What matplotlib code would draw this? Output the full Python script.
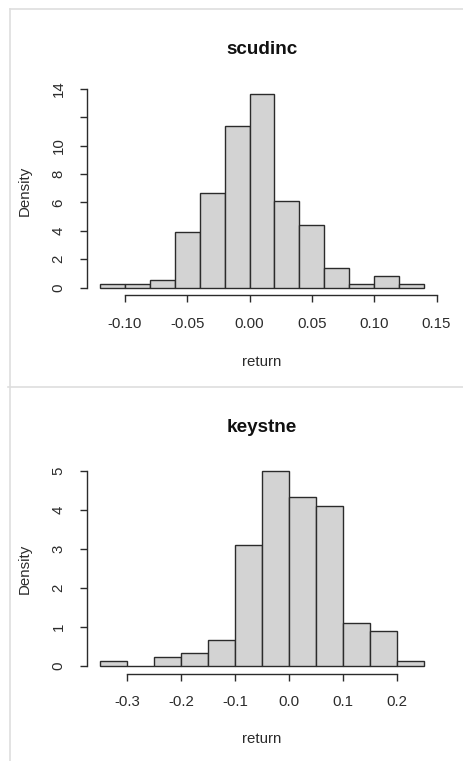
import matplotlib
matplotlib.use("Agg")
import matplotlib.pyplot as plt
from matplotlib.lines import Line2D
import numpy as np

plt.rcParams["font.family"] = ["Liberation Sans", "DejaVu Sans"]
plt.rcParams["axes.unicode_minus"] = False

# scudinc: 180 monthly returns, bins of 0.02
scud_edges = [-0.12, -0.10, -0.08, -0.06, -0.04, -0.02, 0.00,
              0.02, 0.04, 0.06, 0.08, 0.10, 0.12, 0.14]
scud_counts = [1, 1, 2, 14, 24, 41, 49, 22, 16, 5, 1, 3, 1]
scud_xticks = [-0.10, -0.05, 0.00, 0.05, 0.10, 0.15]
scud_xlabels = ["-0.10", "-0.05", "0.00", "0.05", "0.10", "0.15"]
scud_yticks = [0, 2, 4, 6, 8, 10, 12, 14]
scud_ylabels = ["0", "2", "4", "6", "8", "10", "", "14"]

# keystne: 180 monthly returns, bins of 0.05
key_edges = [-0.35, -0.30, -0.25, -0.20, -0.15, -0.10, -0.05,
             0.00, 0.05, 0.10, 0.15, 0.20, 0.25]
key_counts = [1, 0, 2, 3, 6, 28, 45, 39, 37, 10, 8, 1]
key_xticks = [-0.3, -0.2, -0.1, 0.0, 0.1, 0.2]
key_xlabels = ["-0.3", "-0.2", "-0.1", "0.0", "0.1", "0.2"]
key_yticks = [0, 1, 2, 3, 4, 5]
key_ylabels = ["0", "1", "2", "3", "4", "5"]

W, H = 464, 761
INK = "#2b2b2b"
FS = 10.8

fig = plt.figure(figsize=(W / 100, H / 100), dpi=100)


def px_axes(x0, y0, x1, y1):
    # pixel box (top-left origin) -> figure fraction
    return fig.add_axes([x0 / W, 1 - y1 / H, (x1 - x0) / W, (y1 - y0) / H])


def r_hist(ax, edges, counts, xticks, xlabels, yticks, ylabels, title, title_y):
    edges = np.asarray(edges)
    counts = np.asarray(counts, dtype=float)
    widths = np.diff(edges)
    dens = counts / (counts.sum() * widths)
    ax.bar(edges[:-1], dens, width=widths, align="edge",
           color="#d3d3d3", edgecolor=INK, linewidth=1.0)

    span = edges[-1] - edges[0]
    ax.set_xlim(edges[0] - 0.04 * span, edges[-1] + 0.04 * span)
    top = dens.max()
    ax.set_ylim(-0.04 * top, top * 1.04)

    for s in ["top", "right"]:
        ax.spines[s].set_visible(False)
    for s in ["left", "bottom"]:
        ax.spines[s].set_color(INK)
        ax.spines[s].set_linewidth(1.0)
    ax.spines["bottom"].set_bounds(xticks[0], xticks[-1])
    ax.spines["left"].set_bounds(yticks[0], yticks[-1])

    ax.set_xticks(xticks)
    ax.set_xticklabels(xlabels)
    ax.set_yticks(yticks)
    ax.set_yticklabels(ylabels, rotation=90, va="center")
    ax.tick_params(direction="out", length=5, width=1.0, color=INK,
                   labelsize=FS, labelcolor=INK, pad=10.5)

    ax.set_xlabel("return", fontsize=FS, color=INK, va="center")
    ax.set_ylabel("Density", fontsize=FS, color=INK, va="center")
    ax.text(0.5, title_y, title, transform=ax.transAxes, ha="center",
            va="center", fontsize=13.6, fontweight="bold", color="#111111")


ax1 = px_axes(87, 86.7, 437, 295.4)
r_hist(ax1, scud_edges, scud_counts, scud_xticks, scud_xlabels,
       scud_yticks, scud_ylabels, "scudinc", 1 + 37.7 / 208.7)
ax1.xaxis.set_label_coords(0.5, -66.6 / 208.7)
ax1.yaxis.set_label_coords(-62 / 350, 0.5)

ax2 = px_axes(87, 463.5, 437, 673.5)
r_hist(ax2, key_edges, key_counts, key_xticks, key_xlabels,
       key_yticks, key_ylabels, "keystne", 1 + 36.5 / 210)
ax2.xaxis.set_label_coords(0.5, -65.5 / 210)
ax2.yaxis.set_label_coords(-62 / 350, 0.5)

# light frame lines of the two stacked screenshots
frame = "#dedede"
for xs, ys in [([10, W], [9, 9]), ([10, 10], [9, 387]),
               ([8, W], [387, 387]), ([10, 10], [387, H])]:
    fig.add_artist(Line2D([x / W for x in xs], [1 - y / H for y in ys],
                          color=frame, linewidth=1.2))

fig.savefig("out.png", dpi=100, facecolor="white")
